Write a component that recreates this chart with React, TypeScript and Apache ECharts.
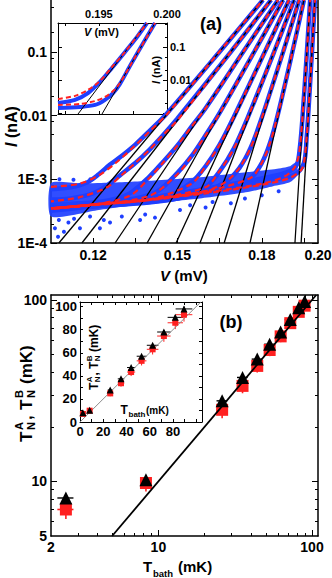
import React, { useEffect, useRef } from "react";
import * as echarts from "echarts";

const FONT = "'Liberation Sans', Arial, Helvetica, sans-serif";
const BLUE = "#1f3fff";
const RED = "#ff2020";
const BLACK = "#000000";
const lg = (v: number) => Math.log10(v);

// ================= Panel (a): I–V curves =================
const voltageRange = [0.105, 0.2]; // mV
const currentRange = [1e-4, 0.65]; // nA
const voltageTicks = [0.12, 0.135, 0.15, 0.165, 0.18, 0.195];
const voltageTickLabels = [0.12, 0.15, 0.18, 0.2];
const currentDecades = [-4, -3, -2, -1];
const currentDecadeLabels = ["1E-4", "1E-3", "0.01", "0.1"];
const currentMinorMantissas = [2, 5, 8];

// measured curves [V (mV), I (nA)]
const curve1 = [[0.105, 7.0e-4], [0.112, 7.5e-4], [0.118, 9.0e-4], [0.122, 1.2e-3], [0.126, 1.7e-3], [0.13, 2.3e-3], [0.135, 3.5e-3], [0.14, 5.7e-3], [0.146, 1.05e-2], [0.165, 0.1], [0.1804, 0.65]];
const curve2 = [[0.105, 4.8e-4], [0.112, 5.0e-4], [0.12, 6.0e-4], [0.125, 8.0e-4], [0.13, 1.2e-3], [0.135, 1.8e-3], [0.14, 2.9e-3], [0.145, 5.0e-3], [0.15, 9.0e-3], [0.169, 0.1], [0.1833, 0.65]];
const curve3 = [[0.105, 4.0e-4], [0.115, 4.2e-4], [0.125, 4.6e-4], [0.133, 6.0e-4], [0.14, 1.1e-3], [0.145, 1.9e-3], [0.15, 3.4e-3], [0.155, 6.7e-3], [0.16, 1.3e-2], [0.1734, 0.1], [0.1858, 0.65]];
const curve4 = [[0.105, 3.8e-4], [0.12, 4.2e-4], [0.135, 5.0e-4], [0.143, 6.5e-4], [0.15, 1.26e-3], [0.155, 2.3e-3], [0.16, 4.9e-3], [0.165, 1.1e-2], [0.1773, 0.1], [0.1876, 0.65]];
const curve5 = [[0.105, 3.6e-4], [0.125, 4.0e-4], [0.145, 5.0e-4], [0.155, 9.0e-4], [0.16, 1.6e-3], [0.165, 3.5e-3], [0.17, 9.4e-3], [0.1811, 0.1], [0.1897, 0.65]];
const curve6 = [[0.105, 3.5e-4], [0.13, 4.0e-4], [0.15, 5.0e-4], [0.16, 7.5e-4], [0.165, 1.33e-3], [0.17, 3.0e-3], [0.175, 9.3e-3], [0.1844, 0.1], [0.1915, 0.65]];
const curve7 = [[0.105, 3.5e-4], [0.135, 4.2e-4], [0.155, 5.5e-4], [0.167, 9.0e-4], [0.172, 1.5e-3], [0.176, 3.1e-3], [0.18, 9.2e-3], [0.1876, 0.1], [0.1933, 0.65]];
const curve8 = [[0.105, 3.5e-4], [0.14, 4.5e-4], [0.165, 7.0e-4], [0.176, 1.05e-3], [0.18, 1.8e-3], [0.183, 3.8e-3], [0.186, 1.17e-2], [0.1909, 0.1], [0.195, 0.65]];
const curve9 = [[0.105, 3.4e-4], [0.13, 4.5e-4], [0.15, 6.0e-4], [0.17, 8.5e-4], [0.185, 1.15e-3], [0.19, 1.35e-3], [0.1925, 1.7e-3], [0.1935, 3.0e-3], [0.1945, 9.5e-3], [0.19605, 0.1], [0.1972, 0.65]];
const curve10 = [[0.105, 3.2e-4], [0.13, 4.2e-4], [0.15, 5.5e-4], [0.17, 7.5e-4], [0.185, 1.0e-3], [0.192, 1.2e-3], [0.195, 1.8e-3], [0.196, 4.8e-3], [0.1965, 1.0e-2], [0.19786, 0.1], [0.1989, 0.65]];

// fits (red dashed)
const fit1 = [[0.105, 7.6e-4], [0.115, 8.5e-4], [0.122, 1.15e-3], [0.128, 1.8e-3], [0.135, 3.4e-3], [0.14, 5.6e-3], [0.1463, 1.05e-2], [0.1649, 0.1], [0.1804, 0.65]];
const fit2 = [[0.105, 4.5e-4], [0.115, 5.2e-4], [0.125, 7.5e-4], [0.13, 1.15e-3], [0.135, 1.8e-3], [0.14, 2.9e-3], [0.145, 5.0e-3], [0.1505, 9.0e-3], [0.169, 0.1], [0.1833, 0.65]];
const fit3 = [[0.105, 3.5e-4], [0.12, 4.0e-4], [0.133, 5.5e-4], [0.14, 1.05e-3], [0.145, 1.85e-3], [0.15, 3.4e-3], [0.155, 6.7e-3], [0.16, 1.3e-2], [0.1734, 0.1], [0.1858, 0.65]];
const fit4 = [[0.105, 3.5e-4], [0.12, 4.0e-4], [0.14, 5.5e-4], [0.15, 1.2e-3], [0.155, 2.3e-3], [0.16, 4.9e-3], [0.1651, 1.1e-2], [0.1773, 0.1], [0.1876, 0.65]];
const fit5 = [[0.105, 3.5e-4], [0.12, 4.0e-4], [0.14, 4.8e-4], [0.155, 8.5e-4], [0.16, 1.6e-3], [0.165, 3.5e-3], [0.17, 9.4e-3], [0.1811, 0.1], [0.1897, 0.65]];
const fit6 = [[0.105, 3.5e-4], [0.12, 4.0e-4], [0.14, 4.8e-4], [0.16, 7.5e-4], [0.165, 1.35e-3], [0.17, 3.0e-3], [0.175, 9.3e-3], [0.1844, 0.1], [0.1915, 0.65]];
const fit7 = [[0.105, 3.5e-4], [0.12, 4.0e-4], [0.14, 4.8e-4], [0.16, 6.5e-4], [0.167, 9.0e-4], [0.172, 1.5e-3], [0.176, 3.1e-3], [0.18, 9.2e-3], [0.1876, 0.1], [0.1933, 0.65]];
const fit8 = [[0.105, 3.5e-4], [0.12, 4.0e-4], [0.14, 4.8e-4], [0.16, 6.5e-4], [0.176, 1.05e-3], [0.18, 1.8e-3], [0.183, 3.8e-3], [0.186, 1.17e-2], [0.1909, 0.1], [0.195, 0.65]];
const fit9 = [[0.105, 3.5e-4], [0.12, 4.0e-4], [0.14, 4.8e-4], [0.16, 6.2e-4], [0.18, 8.5e-4], [0.188, 1.1e-3], [0.1915, 1.5e-3], [0.193, 2.2e-3], [0.1935, 3.0e-3], [0.1945, 9.5e-3], [0.19605, 0.1], [0.1972, 0.65]];
const fit10 = [[0.105, 3.4e-4], [0.12, 3.9e-4], [0.14, 4.7e-4], [0.16, 6.0e-4], [0.18, 8.2e-4], [0.19, 1.05e-3], [0.194, 1.4e-3], [0.195, 1.8e-3], [0.196, 4.8e-3], [0.1965, 1.0e-2], [0.19786, 0.1], [0.1989, 0.65]];

// exponential asymptotes (black): V where they cross the low and high current
const asymptoteLowI = 1e-4;
const asymptoteHighI = 0.65;
const asymptoteLowV = [0.1078, 0.116, 0.1278, 0.1392, 0.1495, 0.158, 0.1666, 0.1758, 0.1918, 0.194];
const asymptoteHighV = [0.1804, 0.1833, 0.1858, 0.1876, 0.1897, 0.1915, 0.1933, 0.195, 0.1972, 0.1989];

// noise floor envelope of the measured points
const noiseUpper = [[0.105, 8.7e-4], [0.115, 8.6e-4], [0.125, 8.8e-4], [0.14, 9.5e-4], [0.16, 1.1e-3], [0.175, 1.3e-3], [0.185, 1.45e-3], [0.19, 1.6e-3], [0.1925, 1.9e-3]];
const noiseLower = [[0.1925, 1.15e-3], [0.19, 9.0e-4], [0.184, 7.8e-4], [0.175, 6.3e-4], [0.158, 5.0e-4], [0.14, 4.2e-4], [0.122, 3.3e-4], [0.105, 2.6e-4]];
const noiseOutliers = [[0.1064, 1.7e-4], [0.1075, 1.25e-4], [0.1078, 2.3e-4], [0.1096, 1.5e-4], [0.1112, 2.1e-4], [0.1132, 2.4e-4], [0.1153, 1.7e-4], [0.1189, 2.6e-4], [0.1224, 1.7e-4], [0.1238, 2.3e-4], [0.126, 2.1e-4], [0.1302, 2.6e-4], [0.1367, 2.3e-4], [0.1385, 2.8e-4], [0.142, 2.5e-4], [0.1509, 3.3e-4], [0.1545, 3.9e-4], [0.16, 3.6e-4], [0.1625, 4.4e-4], [0.169, 4.2e-4], [0.174, 5.0e-4], [0.18, 5.6e-4], [0.186, 6.5e-4], [0.108, 1.0e-3], [0.113, 9.8e-4], [0.119, 1.0e-3]];

// ---- inset of (a)
const insetVoltageRange = [0.192, 0.2];
const insetCurrentRange = [9.3e-4, 0.533];
const insetVoltageTicks = [0.1925, 0.195, 0.1975];
const insetVoltageLabels = [0.195, 0.2];
const insetCurrentDecades = [-3, -2, -1];
const insetCurrentLabelDecades = [-2, -1];
const insetCurrentLabels = ["0.01", "0.1"];
const insetMinorMantissas = [2, 5];
const insetCurveA = [[0.192, 2.0e-3], [0.19325, 2.5e-3], [0.1942, 4.0e-3], [0.19508, 8.7e-3], [0.19596, 2.31e-2], [0.19692, 7.05e-2], [0.1978, 0.201], [0.19853, 0.533]];
const insetCurveB = [[0.192, 1.42e-3], [0.19362, 1.52e-3], [0.19472, 1.75e-3], [0.19545, 2.5e-3], [0.19604, 4.0e-3], [0.19655, 7.6e-3], [0.19728, 2.65e-2], [0.19817, 0.115], [0.19912, 0.533]];
const insetFitA = [[0.192, 2.65e-3], [0.19325, 3.3e-3], [0.1942, 5.0e-3], [0.19508, 9.3e-3], [0.19596, 2.48e-2], [0.19692, 7.05e-2], [0.19853, 0.533]];
const insetFitB = [[0.192, 1.75e-3], [0.19362, 1.87e-3], [0.19472, 2.3e-3], [0.19545, 3.05e-3], [0.19604, 4.6e-3], [0.19655, 8.1e-3], [0.19728, 2.65e-2], [0.19912, 0.533]];
const insetAsymptoteA = [[0.19347, 9.3e-4], [0.19853, 0.533]];
const insetAsymptoteB = [[0.19523, 9.3e-4], [0.19912, 0.533]];

// ================= Panel (b): noise temperatures =================
const tBathRange = [2, 109.4];
const tNRange = [5, 106.5];
const tBathLabels = [2, 10, 100];
const tNLabels = [5, 10, 100];
const tBathMajor = [10, 100];
const tNMajor = [10, 100];
const tBathMinor = [3, 4, 5, 6, 7, 8, 9, 20, 30, 40, 50, 60, 70, 80, 90];
const tNMinor = [6, 7, 8, 9, 20, 30, 40, 50, 60, 70, 80, 90];
const tBath = [2.5, 8.3, 26, 35.3, 44, 53, 62.5, 72.2, 82, 89.5];
const tNA = [8.1, 10.2, 27.8, 37.4, 47.2, 57, 66.5, 78, 90.7, 98];
const tNB = [7.0, 9.8, 24.8, 33.6, 43.3, 53, 63, 74.5, 86, 93];
const tBathErr = [0.3, 0.7, 2.1, 2.8, 3.5, 4.2, 5.0, 5.8, 6.6, 7.2];
const tNAErr = [0.4, 0.5, 1.0, 1.0, 1.2, 1.4, 1.6, 1.8, 2.0, 2.2];
const tNBErr = [0.8, 1.0, 2.5, 3.0, 3.5, 4.0, 4.5, 5.0, 5.5, 6.0];
const identityMain = [5, 106.5];

// ---- inset of (b)
const insetTBathRange = [0, 105];
const insetTNRange = [0, 104];
const insetTBathTicks = [0, 10, 20, 30, 40, 50, 60, 70, 80, 90, 100];
const insetTNTicks = [0, 10, 20, 30, 40, 50, 60, 70, 80, 90, 100];
const insetTBathLabels = [0, 20, 40, 60, 80];
const insetTNLabels = [0, 20, 40, 60, 80, 100];
const identityInset = [0, 104];

// ================= helpers =================
function logMinor(decades: number[], mantissas: number[]) {
  const out: number[] = [];
  decades.forEach((d) => mantissas.forEach((m) => out.push(d + lg(m))));
  return out;
}

function dataAxis(type: string, gridIndex: number, position: string, min: number, max: number, lineWidth: number) {
  const ax: any = {
    type, gridIndex, position, min, max,
    splitLine: { show: false },
    minorSplitLine: { show: false },
    axisLine: { show: true, onZero: false, lineStyle: { color: BLACK, width: lineWidth } },
    axisTick: { show: false },
    axisLabel: { show: false },
    axisPointer: { show: false },
  };
  if (type === "log") ax.logBase = 10;
  return ax;
}

function overlayAxis(gridIndex: number, position: string, min: number, max: number, cfg: any) {
  return {
    type: "value", gridIndex, position, min, max,
    splitLine: { show: false },
    axisLine: { show: !!cfg.lineWidth, onZero: false, lineStyle: { color: BLACK, width: cfg.lineWidth || 1 } },
    axisTick: cfg.ticks
      ? { show: true, inside: true, length: cfg.tickLength, customValues: cfg.ticks, lineStyle: { color: BLACK, width: cfg.tickWidth || 1 } }
      : { show: false },
    axisLabel: cfg.labels
      ? { show: true, customValues: cfg.labels, formatter: cfg.formatter, margin: cfg.margin, color: BLACK, fontSize: cfg.fontSize, fontWeight: "bold", fontFamily: FONT }
      : { show: false },
    axisPointer: { show: false },
  };
}

function errorBars(xs: number[], ys: number[], exs: number[], eys: number[], color: string, xi: number, yi: number, width: number) {
  return {
    type: "custom", xAxisIndex: xi, yAxisIndex: yi, silent: true,
    encode: { x: 0, y: 1 },
    data: xs.map((x, i) => [x, ys[i], exs[i], eys[i]]),
    renderItem: (params: any, api: any) => {
      const x = api.value(0), y = api.value(1), ex = api.value(2), ey = api.value(3);
      const l = api.coord([x - ex, y]), r = api.coord([x + ex, y]);
      const b = api.coord([x, y - ey]), t = api.coord([x, y + ey]);
      return {
        type: "group",
        children: [
          { type: "line", shape: { x1: l[0], y1: l[1], x2: r[0], y2: r[1] }, style: { stroke: color, lineWidth: width } },
          { type: "line", shape: { x1: b[0], y1: b[1], x2: t[0], y2: t[1] }, style: { stroke: color, lineWidth: width } },
        ],
      };
    },
  };
}

function txt(text: string, x: number, y: number, size: number, extra: any = {}) {
  return {
    type: "text", x, y, silent: true,
    style: {
      text, fill: BLACK, fontSize: size, fontWeight: "bold", fontFamily: FONT,
      fontStyle: extra.italic ? "italic" : "normal",
      align: extra.align || "left", verticalAlign: "middle",
    },
  };
}

function rotatedGroup(x: number, y: number, children: any[]) {
  return { type: "group", x, y, rotation: Math.PI / 2, children };
}

// T_N^A , T_N^B (mK) rotated label
function tnLabel(x: number, y: number, big: number, small: number, step: number[], sup: number, sub: number) {
  return rotatedGroup(x, y, [
    txt("T", step[0], 0, big),
    txt("A", step[1], sup, small),
    txt("N", step[1], sub, small),
    txt(",", step[2], 0, big),
    txt("T", step[3], 0, big),
    txt("B", step[4], sup, small),
    txt("N", step[4], sub, small),
    txt("(mK)", step[5], 0, big),
  ]);
}

export default function App() {
  const ref = useRef<HTMLDivElement>(null);

  useEffect(() => {
    if (!ref.current) return;
    const chart = echarts.init(ref.current, null, { renderer: "svg" });

    const grid = [
      { left: 51, top: 0, width: 267, height: 243 },
      { left: 58, top: 23, width: 109, height: 91, show: true, backgroundColor: "#ffffff", borderWidth: 0 },
      { left: 51, top: 295, width: 267, height: 241 },
      { left: 80, top: 302, width: 122, height: 120, show: true, backgroundColor: "#ffffff", borderWidth: 0 },
    ].map((g) => ({ containLabel: false, outerBoundsMode: "none", ...g }));

    const aLogMin = lg(currentRange[0]);
    const aLogMax = lg(currentRange[1]);
    const aMinor = logMinor(currentDecades, currentMinorMantissas);
    const iLogMin = lg(insetCurrentRange[0]);
    const iLogMax = lg(insetCurrentRange[1]);
    const iMinor = logMinor([-4, -3, -2, -1], insetMinorMantissas);
    const bxMin = lg(tBathRange[0]);
    const bxMax = lg(tBathRange[1]);
    const byMin = lg(tNRange[0]);
    const byMax = lg(tNRange[1]);
    const powLabel = (v: number) => String(Math.round(Math.pow(10, v)));

    const xAxis: any[] = [
      overlayAxis(0, "bottom", voltageRange[0], voltageRange[1], {
        lineWidth: 1.5, ticks: voltageTicks, tickLength: 5, labels: voltageTickLabels,
        formatter: (v: number) => v.toFixed(2), margin: 5, fontSize: 14,
      }),
      overlayAxis(1, "top", insetVoltageRange[0], insetVoltageRange[1], {
        lineWidth: 1, ticks: insetVoltageTicks, tickLength: 3, labels: insetVoltageLabels,
        formatter: (v: number) => v.toFixed(3), margin: 4, fontSize: 11,
      }),
      overlayAxis(1, "bottom", insetVoltageRange[0], insetVoltageRange[1], { lineWidth: 1, ticks: insetVoltageTicks, tickLength: 3 }),
      dataAxis("log", 2, "bottom", tBathRange[0], tBathRange[1], 1.5),
      overlayAxis(2, "bottom", bxMin, bxMax, { ticks: tBathMajor.map(lg), tickLength: 6, labels: tBathLabels.map(lg), formatter: powLabel, margin: 4, fontSize: 14 }),
      overlayAxis(2, "bottom", bxMin, bxMax, { ticks: tBathMinor.map(lg), tickLength: 3 }),
      overlayAxis(2, "top", bxMin, bxMax, { lineWidth: 1.5, ticks: tBathMajor.map(lg), tickLength: 6 }),
      overlayAxis(2, "top", bxMin, bxMax, { ticks: tBathMinor.map(lg), tickLength: 3 }),
      overlayAxis(3, "bottom", insetTBathRange[0], insetTBathRange[1], {
        lineWidth: 1, ticks: insetTBathTicks, tickLength: 3, labels: insetTBathLabels,
        formatter: (v: number) => String(v), margin: 3, fontSize: 13,
      }),
      overlayAxis(3, "top", insetTBathRange[0], insetTBathRange[1], { lineWidth: 1, ticks: insetTBathTicks, tickLength: 3 }),
    ];

    const yAxis: any[] = [
      dataAxis("log", 0, "left", currentRange[0], currentRange[1], 1.5),
      overlayAxis(0, "left", aLogMin, aLogMax, {
        ticks: currentDecades, tickLength: 6, labels: currentDecades,
        formatter: (v: number) => currentDecadeLabels[currentDecades.indexOf(Math.round(v))], margin: 4, fontSize: 14,
      }),
      overlayAxis(0, "left", aLogMin, aLogMax, { ticks: aMinor, tickLength: 3 }),
      overlayAxis(0, "right", aLogMin, aLogMax, { lineWidth: 1.5, ticks: currentDecades, tickLength: 6 }),
      overlayAxis(0, "right", aLogMin, aLogMax, { ticks: aMinor, tickLength: 3 }),
      dataAxis("log", 1, "left", insetCurrentRange[0], insetCurrentRange[1], 1),
      overlayAxis(1, "right", iLogMin, iLogMax, {
        lineWidth: 1, ticks: insetCurrentDecades, tickLength: 4, labels: insetCurrentLabelDecades,
        formatter: (v: number) => insetCurrentLabels[insetCurrentLabelDecades.indexOf(Math.round(v))], margin: 3, fontSize: 11,
      }),
      overlayAxis(1, "right", iLogMin, iLogMax, { ticks: iMinor, tickLength: 2 }),
      overlayAxis(1, "left", iLogMin, iLogMax, { ticks: insetCurrentDecades, tickLength: 4 }),
      dataAxis("log", 2, "left", tNRange[0], tNRange[1], 1.5),
      overlayAxis(2, "left", byMin, byMax, { ticks: tNMajor.map(lg), tickLength: 6, labels: tNLabels.map(lg), formatter: powLabel, margin: 4, fontSize: 14 }),
      overlayAxis(2, "left", byMin, byMax, { ticks: tNMinor.map(lg), tickLength: 3 }),
      overlayAxis(2, "right", byMin, byMax, { lineWidth: 1.5, ticks: tNMajor.map(lg), tickLength: 6 }),
      overlayAxis(2, "right", byMin, byMax, { ticks: tNMinor.map(lg), tickLength: 3 }),
      overlayAxis(3, "left", insetTNRange[0], insetTNRange[1], {
        lineWidth: 1, ticks: insetTNTicks, tickLength: 3, labels: insetTNLabels,
        formatter: (v: number) => String(v), margin: 3, fontSize: 13,
      }),
      overlayAxis(3, "right", insetTNRange[0], insetTNRange[1], { lineWidth: 1, ticks: insetTNTicks, tickLength: 3 }),
    ];

    const series: any[] = [];
    const blueCurves = [curve1, curve2, curve3, curve4, curve5, curve6, curve7, curve8, curve9, curve10];
    const fitCurves = [fit1, fit2, fit3, fit4, fit5, fit6, fit7, fit8, fit9, fit10];

    series.push({
      type: "custom", xAxisIndex: 0, yAxisIndex: 0, silent: true,
      encode: { x: 0, y: 1 },
      data: [noiseUpper[0]],
      renderItem: (params: any, api: any) => {
        if (params.dataIndex !== 0) return null;
        const pts = noiseUpper.concat(noiseLower).map((p) => api.coord(p));
        return { type: "polygon", shape: { points: pts, smooth: 0.2 }, style: { fill: BLUE, opacity: 0.92 } };
      },
    });
    series.push({
      type: "scatter", xAxisIndex: 0, yAxisIndex: 0, silent: true,
      data: noiseOutliers, symbolSize: 4, itemStyle: { color: BLUE, opacity: 1 },
    });
    blueCurves.forEach((c) =>
      series.push({
        type: "line", xAxisIndex: 0, yAxisIndex: 0, silent: true, data: c,
        symbol: "none", smooth: 0.3, lineStyle: { color: BLUE, width: 4.5 },
      })
    );
    asymptoteLowV.forEach((v, i) =>
      series.push({
        type: "line", xAxisIndex: 0, yAxisIndex: 0, silent: true,
        data: [[v, asymptoteLowI], [asymptoteHighV[i], asymptoteHighI]],
        symbol: "none", lineStyle: { color: BLACK, width: 1.3 },
      })
    );
    fitCurves.forEach((c, i) =>
      series.push({
        type: "line", xAxisIndex: 0, yAxisIndex: 0, silent: true, data: c,
        symbol: "none", smooth: 0.3,
        lineStyle: { color: RED, width: 2.2, type: [6, 4], dashOffset: i * 3 },
      })
    );

    [insetCurveA, insetCurveB].forEach((c) =>
      series.push({
        type: "line", xAxisIndex: 1, yAxisIndex: 5, silent: true, data: c, z: 5,
        symbol: "none", smooth: 0.3, lineStyle: { color: BLUE, width: 4 },
      })
    );
    [insetAsymptoteA, insetAsymptoteB].forEach((c) =>
      series.push({
        type: "line", xAxisIndex: 1, yAxisIndex: 5, silent: true, data: c, z: 5,
        symbol: "none", lineStyle: { color: BLACK, width: 1 },
      })
    );
    [insetFitA, insetFitB].forEach((c) =>
      series.push({
        type: "line", xAxisIndex: 1, yAxisIndex: 5, silent: true, data: c, z: 5,
        symbol: "none", smooth: 0.3, lineStyle: { color: RED, width: 2, type: [5, 3] },
      })
    );

    series.push({
      type: "line", xAxisIndex: 3, yAxisIndex: 9, silent: true,
      data: [[identityMain[0], identityMain[0]], [identityMain[1], identityMain[1]]],
      symbol: "none", lineStyle: { color: BLACK, width: 1.8 },
    });
    series.push(errorBars(tBath, tNB, tBathErr, tNBErr, RED, 3, 9, 1.6));
    series.push({
      type: "scatter", xAxisIndex: 3, yAxisIndex: 9, silent: true,
      data: tBath.map((x, i) => [x, tNB[i]]), symbol: "rect", symbolSize: 12, itemStyle: { color: RED, opacity: 1 },
    });
    series.push(errorBars(tBath, tNA, tBathErr, tNAErr, BLACK, 3, 9, 1.4));
    series.push({
      type: "scatter", xAxisIndex: 3, yAxisIndex: 9, silent: true,
      data: tBath.map((x, i) => [x, tNA[i]]), symbol: "triangle", symbolSize: 13, itemStyle: { color: BLACK, opacity: 1 },
    });

    series.push({
      type: "line", xAxisIndex: 8, yAxisIndex: 14, silent: true, z: 5,
      data: [[identityInset[0], identityInset[0]], [identityInset[1], identityInset[1]]],
      symbol: "none", lineStyle: { color: "#8c8c8c", width: 1 },
    });
    series.push({ ...errorBars(tBath, tNB, tBathErr, tNBErr, RED, 8, 14, 1), z: 5 });
    series.push({
      type: "scatter", xAxisIndex: 8, yAxisIndex: 14, silent: true, z: 5,
      data: tBath.map((x, i) => [x, tNB[i]]), symbol: "rect", symbolSize: 6, itemStyle: { color: RED, opacity: 1 },
    });
    series.push({ ...errorBars(tBath, tNA, tBathErr, tNAErr, BLACK, 8, 14, 1), z: 5 });
    series.push({
      type: "scatter", xAxisIndex: 8, yAxisIndex: 14, silent: true, z: 5,
      data: tBath.map((x, i) => [x, tNA[i]]), symbol: "triangle", symbolSize: 7, itemStyle: { color: BLACK, opacity: 1 },
    });

    const graphic: any[] = [
      txt("(a)", 211, 24, 18, { align: "center" }),
      txt("(b)", 231, 322, 18, { align: "center" }),
      rotatedGroup(11, 147, [txt("I", 0, 0, 16, { italic: true }), txt("(nA)", 8.9, 0, 16)]),
      txt("V", 160, 275, 15, { italic: true }),
      txt("(mV)", 174.3, 275, 15),
      txt("V", 84, 32, 11, { italic: true }),
      txt("(mV)", 94.4, 32, 11),
      rotatedGroup(156, 84, [txt("I", 0, 0, 11, { italic: true }), txt("(nA)", 6.1, 0, 11)]),
      txt("T", 143, 566, 15),
      txt("bath", 153, 573, 9.5),
      txt("(mK)", 178, 566, 15),
      tnLabel(26, 442, 17, 11, [0, 12, 22, 32, 44, 58], -7, 4.5),
      txt("T", 120.5, 410, 12),
      txt("bath", 128.5, 414, 8),
      txt("(mK)", 146, 410, 10),
      tnLabel(94, 390, 12, 8, [0, 7.8, 14.5, 21, 28.8, 38], -4.5, 3.5),
    ];

    chart.setOption({
      animation: false,
      backgroundColor: "#ffffff",
      textStyle: { fontFamily: FONT },
      grid, xAxis, yAxis, series, graphic,
    });
    return () => chart.dispose();
  }, []);

  return (
    <div
      ref={ref}
      style={{ position: "fixed", left: 0, top: 0, width: 332, height: 578, background: "#ffffff" }}
    />
  );
}
